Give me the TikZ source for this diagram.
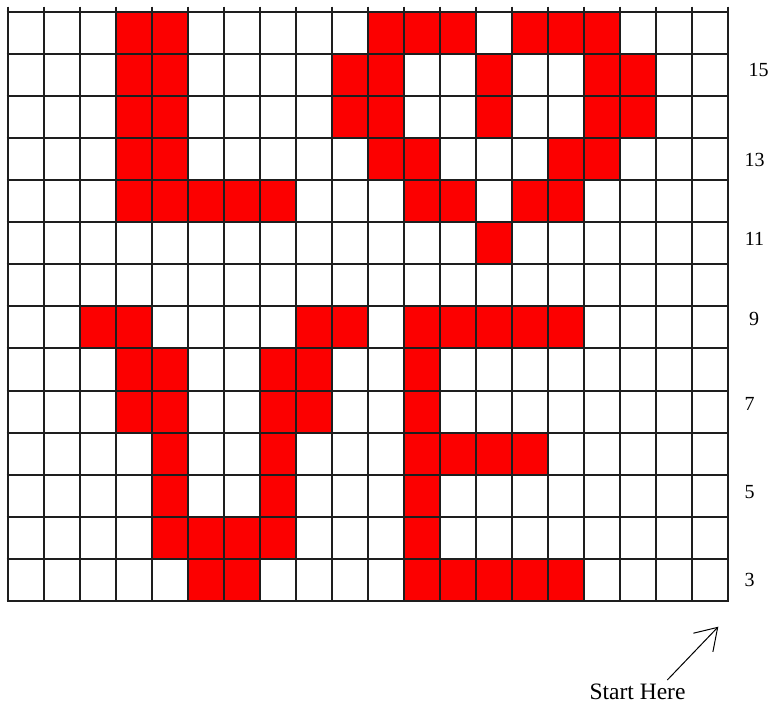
\documentclass[tikz,border=0pt]{standalone}
\usepackage{fontspec}
\setmainfont{Liberation Serif}
\usetikzlibrary{arrows.meta}
\definecolor{cellred}{RGB}{252,0,0}
\definecolor{gridline}{RGB}{30,30,30}
\tikzset{
  gridstroke/.style={draw=gridline, line width=2pt},
  redcell/.style={fill=cellred},
  rowlabel/.style={inner sep=0pt, font=\fontsize{20}{24}\selectfont},
  starttext/.style={inner sep=0pt, anchor=base, font=\fontsize{23.5}{28}\selectfont},
  startarrow/.style={draw=black, line width=1pt, -{Straight Barb[length=21pt,width=27pt,line width=1pt]}}
}
\newcommand{\gx}{36.01}
\newcommand{\gy}{42.09}
\begin{document}
\begin{tikzpicture}[x=1pt,y=-1pt]
\useasboundingbox (0,0) rectangle (768,704);
% red cells
\foreach \r/\cl in {
  0/{3,4,10,11,12,14,15,16},
  1/{3,4,9,10,13,16,17},
  2/{3,4,9,10,13,16,17},
  3/{3,4,10,11,15,16},
  4/{3,4,5,6,7,11,12,14,15},
  5/{13},
  7/{2,3,8,9,11,12,13,14,15},
  8/{3,4,7,8,11},
  9/{3,4,7,8,11},
  10/{4,7,11,12,13,14},
  11/{4,7,11},
  12/{4,5,6,7,11},
  13/{5,6,11,12,13,14,15}}{
  \foreach \c in \cl {
    \fill[redcell] ({7.5+\gx*\c},{11.7+\gy*\r}) rectangle ++(\gx,\gy);
  }
}
% grid
\foreach \c in {0,...,20} {
  \draw[gridstroke] ({7.5+\gx*\c},6.7) -- ({7.5+\gx*\c},601.5);
}
\foreach \r in {0,...,14} {
  \draw[gridstroke] (6.5,{11.7+\gy*\r}) -- (728.7,{11.7+\gy*\r});
}
% row labels
\node[rowlabel] (lab15) at (758.5,69.5) {15};
\node[rowlabel] (lab13) at (754.5,159.5) {13};
\node[rowlabel] (lab11) at (754.5,239) {11};
\node[rowlabel] (lab9) at (754,318.5) {9};
\node[rowlabel] (lab7) at (749.5,404) {7};
\node[rowlabel] (lab5) at (749.5,492.5) {5};
\node[rowlabel] (lab3) at (749.5,580) {3};
% start here
\node[starttext] (start) at (637.5,699.5) {Start Here};
\coordinate (tail) at (667.3,680);
\coordinate (tip) at (718.3,626.7);
\draw[startarrow] (tail) -- (tip);
\end{tikzpicture}
\end{document}
